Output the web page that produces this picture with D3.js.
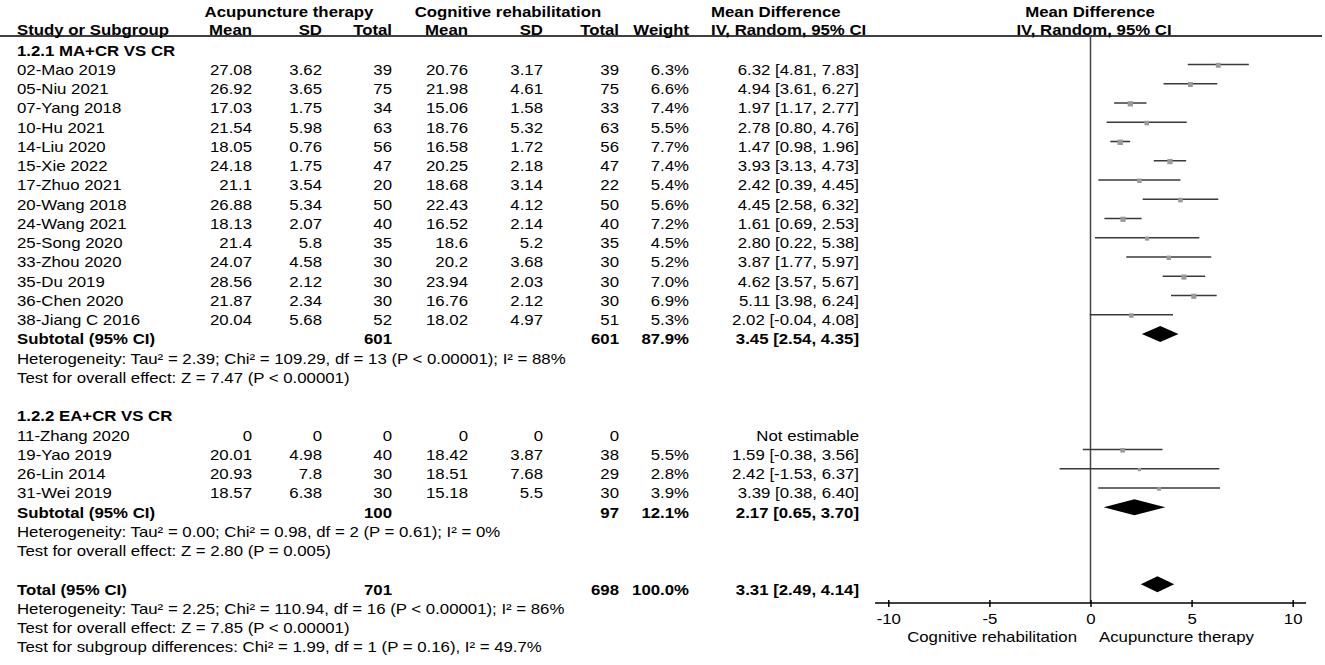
<!DOCTYPE html>
<html>
<head>
<meta charset="utf-8">
<script src="https://cdn.jsdelivr.net/npm/d3@7"></script>
<style>
  html, body { margin: 0; padding: 0; background: #fff; }
  svg { display: block; }
  text { font-family: "Liberation Sans", Arial, sans-serif; font-size: 14px; fill: #000; }
  .b { font-weight: bold; }
</style>
</head>
<body>
<svg id="chart" width="1325" height="665"></svg>
<script>
// ---------- data ----------
const group1Title = "1.2.1 MA+CR VS CR";
const group2Title = "1.2.2 EA+CR VS CR";

const studies1 = ["02-Mao 2019","05-Niu 2021","07-Yang 2018","10-Hu 2021","14-Liu 2020","15-Xie 2022","17-Zhuo 2021","20-Wang 2018","24-Wang 2021","25-Song 2020","33-Zhou 2020","35-Du 2019","36-Chen 2020","38-Jiang C 2016"];
const acuMean1 = [27.08,26.92,17.03,21.54,18.05,24.18,21.1,26.88,18.13,21.4,24.07,28.56,21.87,20.04];
const acuSD1   = [3.62,3.65,1.75,5.98,0.76,1.75,3.54,5.34,2.07,5.8,4.58,2.12,2.34,5.68];
const acuN1    = [39,75,34,63,56,47,20,50,40,35,30,30,30,52];
const crMean1  = [20.76,21.98,15.06,18.76,16.58,20.25,18.68,22.43,16.52,18.6,20.2,23.94,16.76,18.02];
const crSD1    = [3.17,4.61,1.58,5.32,1.72,2.18,3.14,4.12,2.14,5.2,3.68,2.03,2.12,4.97];
const crN1     = [39,75,33,63,56,47,22,50,40,35,30,30,30,51];
const weight1  = [6.3,6.6,7.4,5.5,7.7,7.4,5.4,5.6,7.2,4.5,5.2,7.0,6.9,5.3];
const md1      = [6.32,4.94,1.97,2.78,1.47,3.93,2.42,4.45,1.61,2.80,3.87,4.62,5.11,2.02];
const lo1      = [4.81,3.61,1.17,0.80,0.98,3.13,0.39,2.58,0.69,0.22,1.77,3.57,3.98,-0.04];
const hi1      = [7.83,6.27,2.77,4.76,1.96,4.73,4.45,6.32,2.53,5.38,5.97,5.67,6.24,4.08];

const studies2 = ["11-Zhang 2020","19-Yao 2019","26-Lin 2014","31-Wei 2019"];
const acuMean2 = [0,20.01,20.93,18.57];
const acuSD2   = [0,4.98,7.8,6.38];
const acuN2    = [0,40,30,30];
const crMean2  = [0,18.42,18.51,15.18];
const crSD2    = [0,3.87,7.68,5.5];
const crN2     = [0,38,29,30];
const weight2  = [null,5.5,2.8,3.9];
const md2      = [null,1.59,2.42,3.39];
const lo2      = [null,-0.38,-1.53,0.38];
const hi2      = [null,3.56,6.37,6.40];

// subtotal / total: [acuN, crN, weight, md, lo, hi]
const subtotal1 = [601,601,87.9,3.45,2.54,4.35];
const subtotal2 = [100,97,12.1,2.17,0.65,3.70];
const overall   = [701,698,100.0,3.31,2.49,4.14];

const het1  = ["Heterogeneity: Tau² = 2.39; Chi² = 109.29, df = 13 (P < 0.00001); I² = 88%", "Test for overall effect: Z = 7.47 (P < 0.00001)"];
const het2  = ["Heterogeneity: Tau² = 0.00; Chi² = 0.98, df = 2 (P = 0.61); I² = 0%", "Test for overall effect: Z = 2.80 (P = 0.005)"];
const hetT  = ["Heterogeneity: Tau² = 2.25; Chi² = 110.94, df = 16 (P < 0.00001); I² = 86%", "Test for overall effect: Z = 7.85 (P < 0.00001)", "Test for subgroup differences: Chi² = 1.99, df = 1 (P = 0.16), I² = 49.7%"];

const tickValues = [-10,-5,0,5,10];
const favourLeft = "Cognitive rehabilitation";
const favourRight = "Acupuncture therapy";

// ---------- layout ----------
const svg = d3.select("#chart");
const rowY = d3.scaleLinear().domain([0,1]).range([70, 89.25]);
const x = d3.scaleLinear().domain([-10,10]).range([888.3, 1292.7]);
const markOff = -5.5;
const sqSize = d3.scaleSqrt().domain([0,8]).range([0,5.5]);
const stretch = 1.2;

const col = { study:17, aMean:252, aSD:322, aN:392, cMean:468, cSD:543, cN:619, w:689, md:859 };

function txt(xp, yp, s, anchor, bold) {
  svg.append("text").attr("x", 0).attr("y", 0).attr("dy","0.35em")
    .attr("transform", `translate(${xp},${yp}) scale(${stretch},1)`)
    .attr("text-anchor", anchor || "start").attr("class", bold ? "b" : null).text(s);
}
const f2 = v => v.toFixed(2);
const ci = (m,l,h) => `${f2(m)} [${f2(l)}, ${f2(h)}]`;

// headers
txt(289, 12, "Acupuncture therapy", "middle", true);
txt(508, 12, "Cognitive rehabilitation", "middle", true);
txt(711, 12, "Mean Difference", "start", true);
txt(1090, 12, "Mean Difference", "middle", true);
txt(col.study, 30, "Study or Subgroup", "start", true);
txt(col.aMean, 30, "Mean", "end", true);
txt(col.aSD, 30, "SD", "end", true);
txt(col.aN, 30, "Total", "end", true);
txt(col.cMean, 30, "Mean", "end", true);
txt(col.cSD, 30, "SD", "end", true);
txt(col.cN, 30, "Total", "end", true);
txt(col.w, 30, "Weight", "end", true);
txt(711, 30, "IV, Random, 95% CI", "start", true);
txt(1094, 30, "IV, Random, 95% CI", "middle", true);

svg.append("line").attr("x1",0).attr("x2",1322).attr("y1",36).attr("y2",36)
  .attr("stroke","#000").attr("stroke-width",1.5);

// zero line
svg.append("line").attr("x1",x(0)).attr("x2",x(0)).attr("y1",36).attr("y2",603)
  .attr("stroke","#444").attr("stroke-width",1.5);

function drawStudies(start, names, am, asd, an, cm, csd, cn, w, md, lo, hi) {
  names.forEach((n,i) => {
    const y = rowY(start+i);
    txt(col.study, y, n);
    txt(col.aMean, y, String(am[i]), "end");
    txt(col.aSD, y, String(asd[i]), "end");
    txt(col.aN, y, String(an[i]), "end");
    txt(col.cMean, y, String(cm[i]), "end");
    txt(col.cSD, y, String(csd[i]), "end");
    txt(col.cN, y, String(cn[i]), "end");
    if (md[i] == null) {
      txt(col.md, y, "Not estimable", "end");
      return;
    }
    txt(col.w, y, w[i].toFixed(1) + "%", "end");
    txt(col.md, y, ci(md[i], lo[i], hi[i]), "end");
    const ym = y + markOff;
    svg.append("line").attr("x1", x(lo[i])).attr("x2", x(hi[i])).attr("y1", ym).attr("y2", ym)
      .attr("stroke","#3a3a3a").attr("stroke-width",1.6);
    const s = sqSize(w[i]);
    svg.append("rect").attr("x", x(md[i]) - s/2).attr("y", ym - s/2 + 0.8).attr("width", s).attr("height", s)
      .attr("fill","#9a9a9a");
  });
}

function drawSummary(r, label, vals) {
  const y = rowY(r);
  txt(col.study, y, label, "start", true);
  txt(col.aN, y, String(vals[0]), "end", true);
  txt(col.cN, y, String(vals[1]), "end", true);
  txt(col.w, y, vals[2].toFixed(1) + "%", "end", true);
  txt(col.md, y, ci(vals[3], vals[4], vals[5]), "end", true);
  const ym = y + markOff, h = 8;
  svg.append("path")
    .attr("d", `M${x(vals[4])},${ym} L${x(vals[3])},${ym-h} L${x(vals[5])},${ym} L${x(vals[3])},${ym+h} Z`)
    .attr("fill","#000");
}

// group 1
txt(col.study, rowY(-1), group1Title, "start", true);
drawStudies(0, studies1, acuMean1, acuSD1, acuN1, crMean1, crSD1, crN1, weight1, md1, lo1, hi1);
drawSummary(14, "Subtotal (95% CI)", subtotal1);
het1.forEach((s,i) => txt(col.study, rowY(15+i), s));

// group 2
txt(col.study, rowY(18), group2Title, "start", true);
drawStudies(19, studies2, acuMean2, acuSD2, acuN2, crMean2, crSD2, crN2, weight2, md2, lo2, hi2);
drawSummary(23, "Subtotal (95% CI)", subtotal2);
het2.forEach((s,i) => txt(col.study, rowY(24+i), s));

// total
drawSummary(27, "Total (95% CI)", overall);
hetT.forEach((s,i) => txt(col.study, rowY(28+i), s));

// axis
const axisY = 603;
const gAxis = svg.append("g").attr("transform", `translate(0,${axisY})`)
  .call(d3.axisBottom(x).tickValues(tickValues).tickSize(4).tickFormat(d => String(d)));
gAxis.select(".domain").remove();
gAxis.selectAll(".tick line").attr("y1",-3).attr("y2",4).attr("stroke","#000").attr("stroke-width",1.5);
gAxis.selectAll(".tick text").attr("y", 0).attr("dy", 0)
  .attr("transform", `translate(0,20.5) scale(${stretch},1)`)
  .style("font-family","'Liberation Sans', Arial, sans-serif").style("font-size","14px").attr("fill","#000");
gAxis.append("line").attr("x1",875).attr("x2",1306).attr("y1",0).attr("y2",0)
  .attr("stroke","#000").attr("stroke-width",1.5);

txt(1077, 637, favourLeft, "end");
txt(1099, 637, favourRight, "start");
</script>
</body>
</html>
